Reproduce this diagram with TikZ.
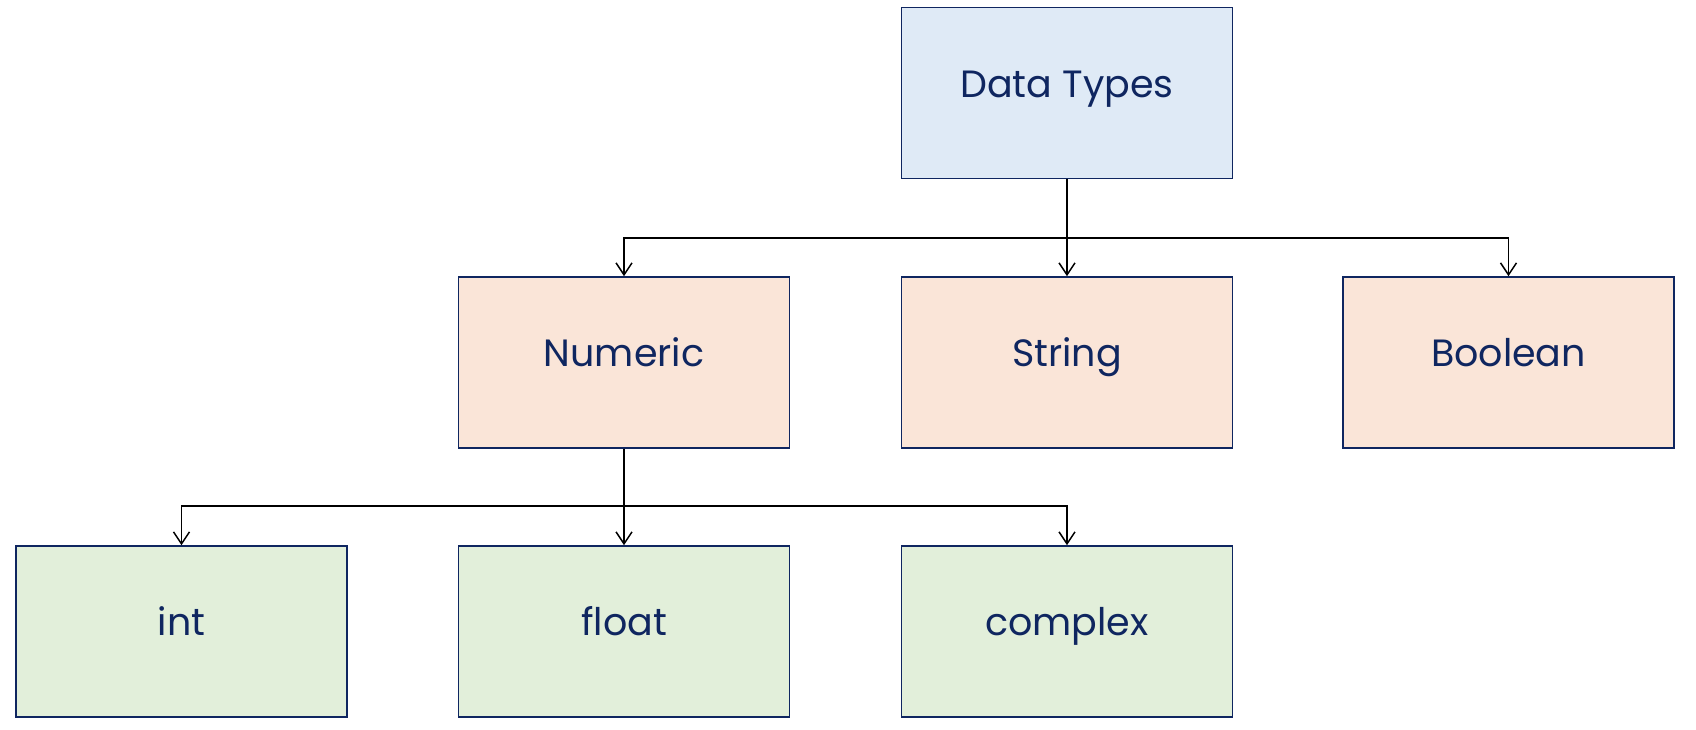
\documentclass[tikz,border=0pt]{standalone}
\usepackage{fontspec}
\setmainfont{Poppins}
\usetikzlibrary{arrows.meta}
\definecolor{navy}{HTML}{0F2660}
\definecolor{topblue}{HTML}{DFEAF6}
\definecolor{midpeach}{HTML}{FAE5D8}
\definecolor{lowgreen}{HTML}{E2EFDA}
\tikzset{
  typebox/.style={draw=navy, line width=0.8pt, text=navy, minimum width=165.5pt,
    minimum height=85.5pt, inner sep=0pt, text height=4pt, text depth=0pt,
    font=\fontsize{19}{23}\selectfont},
  link/.style={draw=black, line width=0.75pt, -{Straight Barb[length=6pt,width=8pt]}}
}
\begin{document}
\begin{tikzpicture}[x=0.5pt, y=-0.5pt]
\useasboundingbox (0,0) rectangle (1696,729);
\node[typebox, fill=topblue] (dt) at (1067,93) {Data Types};
\node[typebox, fill=midpeach] (num) at (624,362.5) {Numeric};
\node[typebox, fill=midpeach] (str) at (1067,362.5) {String};
\node[typebox, fill=midpeach] (bool) at (1508.5,362.5) {Boolean};
\node[typebox, fill=lowgreen] (int) at (181.5,631.5) {int};
\node[typebox, fill=lowgreen] (flt) at (624,631.5) {float};
\node[typebox, fill=lowgreen] (cpx) at (1067,631.5) {complex};
\coordinate (bustop) at (1067,238);
\coordinate (buslow) at (624,506);
\draw[link] (dt.south) -- (bustop) -| (num.north);
\draw[link] (dt.south) -- (str.north);
\draw[link] (dt.south) -- (bustop) -| (bool.north);
\draw[link] (num.south) -- (buslow) -| (int.north);
\draw[link] (num.south) -- (flt.north);
\draw[link] (num.south) -- (buslow) -| (cpx.north);
\end{tikzpicture}
\end{document}
